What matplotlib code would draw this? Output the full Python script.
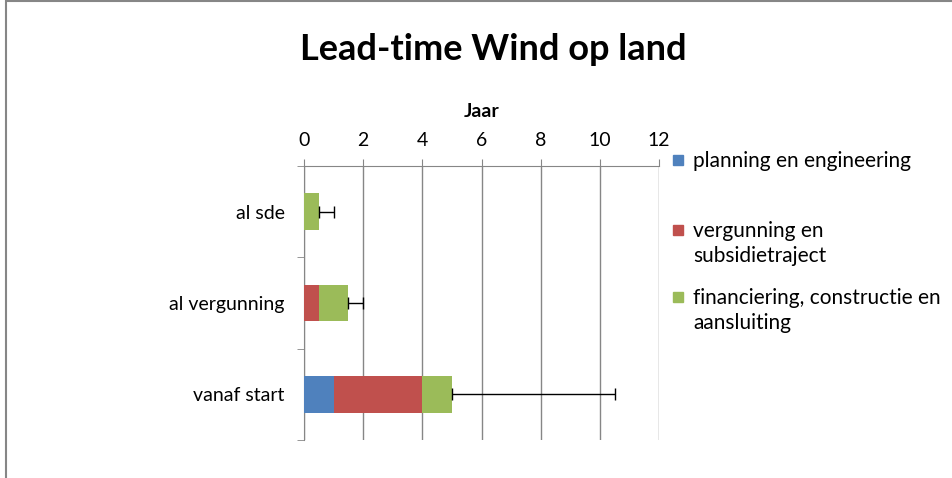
import matplotlib.pyplot as plt
from matplotlib.patches import Rectangle

plt.rcParams['font.family'] = ['Lato', 'DejaVu Sans']

categories = ['al sde', 'al vergunning', 'vanaf start']
planning = [0.0, 0.0, 1.0]
vergunning = [0.0, 0.5, 3.0]
financiering = [0.5, 1.0, 1.0]
error_plus = [0.5, 0.5, 5.5]
series_names = ['planning en engineering', 'vergunning en\nsubsidietraject',
                'financiering, constructie en\naansluiting']
colors = ['#4f81bd', '#c0504d', '#9bbb59']

W, H = 952, 478
fig = plt.figure(figsize=(W / 100, H / 100), dpi=100)
ax = fig.add_axes([304 / W, 1 - 440 / H, (659 - 304) / W, (440 - 166) / H])

ypos = list(range(len(categories)))
left = [0.0] * len(categories)
for vals, col in zip([planning, vergunning, financiering], colors):
    ax.barh(ypos, vals, left=left, height=0.4, color=col, zorder=3)
    left = [l + v for l, v in zip(left, vals)]
ax.errorbar(left, ypos, xerr=[[0] * len(left), error_plus], fmt='none',
            ecolor='black', elinewidth=1, capsize=4, capthick=1, zorder=4)

ax.set_xlim(0, 12)
ax.set_ylim(2.5, -0.5)
ax.set_xticks(range(0, 13, 2))
ax.xaxis.tick_top()
ax.xaxis.set_label_position('top')
ax.set_xlabel('Jaar', fontsize=14, fontweight='bold', labelpad=11)
ax.grid(axis='x', color='#868686', linewidth=1, zorder=0)
ax.set_yticks(ypos)
ax.set_yticklabels(categories, fontsize=14)
ax.set_yticks([-0.5, 0.5, 1.5, 2.5], minor=True)
ax.tick_params(axis='y', which='major', length=0, pad=14)
ax.tick_params(axis='y', which='minor', length=5, color='#868686')
ax.tick_params(axis='x', length=5, color='#868686', labelsize=14, pad=7)
for s in ['bottom', 'right']:
    ax.spines[s].set_visible(False)
for s in ['top', 'left']:
    ax.spines[s].set_color('#868686')

fig.text(493 / W, 1 - 49 / H, 'Lead-time Wind op land', fontsize=26,
         fontweight='bold', ha='center', va='center')

# legend
leg_rows = [160, 230, 297]
for name, col, y in zip(series_names, colors, leg_rows):
    fig.patches.append(Rectangle((673 / W, 1 - (y + 5) / H), 10 / W, 10 / H,
                                 transform=fig.transFigure, color=col))
    fig.text(693 / W, 1 - (y - 9) / H, name, fontsize=15, ha='left', va='top',
             linespacing=1.3)

# chart border
fig.patches.append(Rectangle((5.5 / W, -0.1), 1.2, 1 - 1.5 / H + 0.1,
                             transform=fig.transFigure, fill=False,
                             edgecolor='#868686', linewidth=1.5))

fig.savefig('out.png', dpi=100)
